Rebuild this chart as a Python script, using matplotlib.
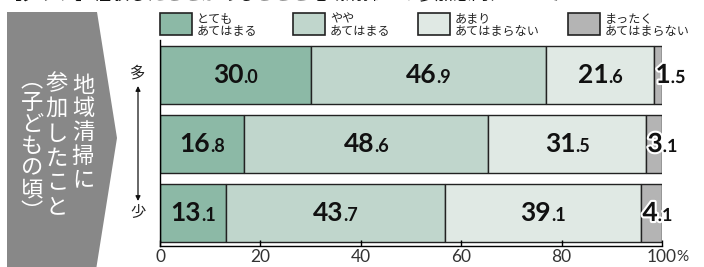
import numpy as np
import matplotlib.pyplot as plt
from matplotlib.patches import Polygon, Rectangle
from matplotlib.transforms import IdentityTransform
import matplotlib.patheffects as pe

plt.rcParams['font.family'] = ['Noto Sans CJK JP', 'DejaVu Sans']

##data
groups = ['多', '中', '少']
series = ['とても\nあてはまる', 'やや\nあてはまる', 'あまり\nあてはまらない', 'まったく\nあてはまらない']
values = [
    [30.0, 46.9, 21.6, 1.5],
    [16.8, 48.6, 31.5, 3.1],
    [13.1, 43.7, 39.1, 4.1],
]
colors = ['#8cb9a6', '#c0d6cc', '#e0e9e4', '#b4b4b4']
ticks = [0, 20, 40, 60, 80, 100]
side_cols = ['地域清掃に', '参加したこと', '︵子どもの頃︶']

W, H = 704, 267
fig = plt.figure(figsize=(W / 100, H / 100), dpi=100)

def fx(px):
    return px / W

def fy(py):
    return 1 - py / H

##cut title line at the very top
fig.text(fx(4), fy(-5.5), '【グラフ】経験したことがあることと地域清掃への参加意向について', fontsize=13,
         color='#111111', va='center', ha='left')

##grey chevron on the left
pts = [(7, 12), (97, 12), (117, 138), (96, 270), (7, 270)]
fig.patches.append(Polygon([(fx(a), fy(b)) for a, b in pts], closed=True,
                           transform=fig.transFigure, facecolor='#888888', edgecolor='none'))
col_x = [83, 57, 32]
col_y0 = [85, 84, 80]
col_step = [23.7, 24.6, 22.0]
for j, txt in enumerate(side_cols):
    y = col_y0[j]
    for ch in txt:
        fig.text(fx(col_x[j]), fy(y), ch, color='white', fontsize=16, ha='center', va='center')
        y += col_step[j]

##more / less arrow
fig.text(fx(138), fy(73), '多', fontsize=11, ha='center', va='center', color='#222222')
fig.text(fx(138), fy(213), '少', fontsize=11, ha='center', va='center', color='#222222')
fig.add_artist(plt.Annotation('', xy=(fx(138), fy(86)), xytext=(fx(138), fy(201)),
                              xycoords='figure fraction',
                              arrowprops=dict(arrowstyle='<|-|>', color='#111111', lw=0.9,
                                              mutation_scale=7, shrinkA=0, shrinkB=0)))

##legend
leg_x = [160, 293, 418, 568]
for i in range(4):
    fig.patches.append(Rectangle((fx(leg_x[i]), fy(35)), fx(32), 22 / H, transform=fig.transFigure,
                                 facecolor=colors[i], edgecolor='#222222', lw=1.2))
    fig.text(fx(leg_x[i] + 37), fy(25), series[i], fontsize=8.7, ha='left', va='center',
             color='#222222', linespacing=0.9)

##bars
ax = fig.add_axes([fx(160), fy(246), fx(502), 206 / H])
y = np.arange(len(groups))
left = np.zeros(len(groups))
vals = np.array(values)
for i in range(4):
    ax.barh(y, vals[:, i], left=left, height=0.83, color=colors[i], edgecolor='#222222', lw=1)
    left += vals[:, i]
ax.set_xlim(0, 100)
ax.set_ylim(2.478, -0.507)
ax.set_yticks([])
ax.set_xticks(ticks)
ax.set_xticklabels([str(t) for t in ticks], fontsize=12.5, color='#333333', fontfamily='Lato')
ax.tick_params(axis='x', direction='in', length=4, width=1, pad=2)
for s in ['top', 'right']:
    ax.spines[s].set_visible(False)
ax.spines['left'].set_linewidth(1)
ax.spines['bottom'].set_linewidth(1)
ax.annotate('%', xy=(100, 0), xycoords=ax.get_xaxis_transform(), xytext=(10.5, -3),
            textcoords='offset points', fontsize=11, color='#333333', fontfamily='Lato',
            ha='left', va='top')

##value labels: big integer part, small decimal part
renderer = fig.canvas.get_renderer()
for r in range(len(groups)):
    start = 0
    for i in range(4):
        v = vals[r, i]
        a, b = ('%.1f' % v).split('.')
        t1 = ax.text(0, 0, a, fontsize=19, fontweight='bold', fontfamily='Lato', color='#111111',
                     ha='left', va='baseline', transform=IdentityTransform())
        t2 = ax.text(0, 0, '.' + b, fontsize=13, fontweight='bold', fontfamily='Lato',
                     color='#111111', ha='left', va='baseline', transform=IdentityTransform())
        w1 = t1.get_window_extent(renderer).width
        w2 = t2.get_window_extent(renderer).width
        x0, yc = ax.transData.transform((start, r))
        xc, _ = ax.transData.transform((start + v / 2, r))
        if v < 10:
            px = x0 + 1
            for t in (t1, t2):
                t.set_path_effects([pe.withStroke(linewidth=3, foreground='white')])
        else:
            px = xc - (w1 + w2) / 2
        t1.set_position((px, yc - 8))
        t2.set_position((px + w1, yc - 8))
        start += v

plt.savefig('out.png', dpi=100)
